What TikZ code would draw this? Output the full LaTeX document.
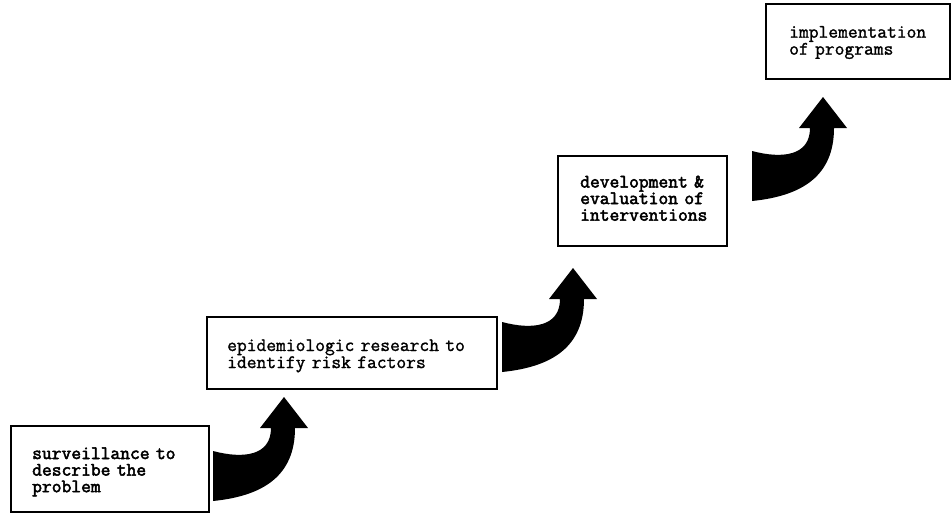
\documentclass[tikz,border=0pt]{standalone}
\usepackage{fontspec}
\newfontfamily\regmono[FakeBold=1.4]{Latin Modern Mono}
\newfontfamily\boldmono[FakeBold=2.6]{Latin Modern Mono}
\begin{document}
\begin{tikzpicture}[x=1pt,y=-1pt,
  stepbox/.style={draw=black,line width=1.6pt,rectangle,inner sep=0pt},
  steptext/.style={anchor=base west,inner sep=0pt,align=left,text width=260pt,
    font=\regmono\fontsize{19}{14.5}\selectfont},
  boldtext/.style={steptext,font=\boldmono\fontsize{19}{16.6}\selectfont},
  curvedarrow/.pic={
    \fill[black] (0,0) -- (0,50) .. controls (50,45) and (82,25) .. (82,-23)
      -- (95,-23) -- (71,-54) -- (47,-23) -- (58,-23)
      .. controls (58,5) and (30,8) .. (0,0) -- cycle;
  }]
\useasboundingbox (0,0) rectangle (952,514);
\fill[white] (0,0) rectangle (952,514);

\node[stepbox,minimum width=198pt,minimum height=86pt] (b1) at (110,469) {};
\node[stepbox,minimum width=290pt,minimum height=72pt] (b2) at (352,353) {};
\node[stepbox,minimum width=169pt,minimum height=90pt] (b3) at (642.5,201) {};
\node[stepbox,minimum width=184pt,minimum height=75pt] (b4) at (858,41.5) {};

\node[boldtext] (t1) at (32,459) {surveillance to\\describe the\\problem};
\node[steptext] (t2) at (227,351) {epidemiologic research to\\identify risk factors};
\node[boldtext] (t3) at (580,187.5) {development \&\\evaluation of\\interventions};
\node[steptext] (t4) at (789,37.7) {implementation\\of programs};

\coordinate (a1) at (213,451);
\coordinate (a2) at (502,322);
\coordinate (a3) at (752,151);
\pic at (a1) {curvedarrow};
\pic at (a2) {curvedarrow};
\pic at (a3) {curvedarrow};
\end{tikzpicture}
\end{document}
